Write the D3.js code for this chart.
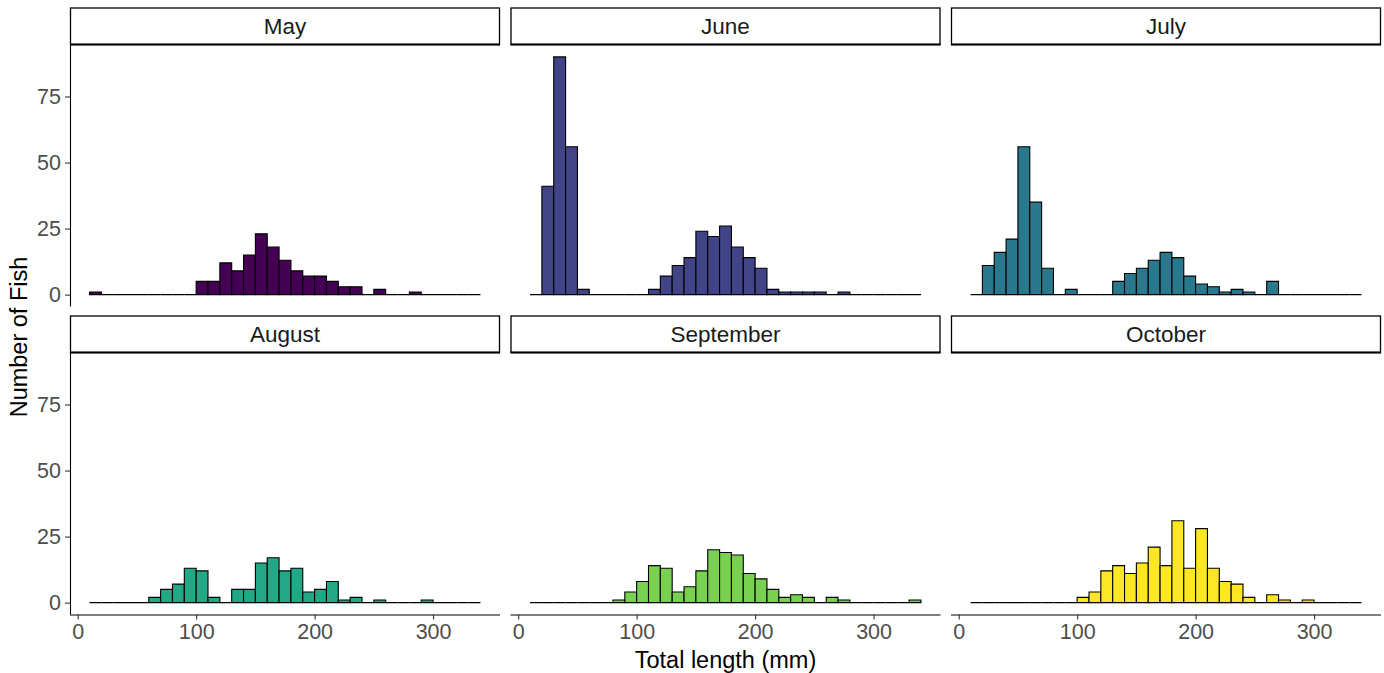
<!DOCTYPE html>
<meta charset="utf-8">
<style>
body {
  margin: 0;
  background-color: #fff;
}
text {
  font-family: Arial, 'Liberation Sans', sans-serif;
}
</style>
<body>
<svg width="1384" height="673"></svg>
<script src="https://d3js.org/d3.v7.min.js"></script>
<script>

// histogram bins: 10 mm wide, from 10 to 340
var binStart = 10,
    binWidth = 10;

var months = ["May", "June", "July", "August", "September", "October"];

var mayCounts = [1,0,0,0,0,0,0,0,0,5,5,12,9,15,23,18,13,9,7,7,5,3,3,0,2,0,0,1,0,0,0,0,0];
var juneCounts = [0,41,90,56,2,0,0,0,0,0,2,7,11,14,24,22,26,18,14,10,2,1,1,1,1,0,1,0,0,0,0,0,0];
var julyCounts = [0,11,16,21,56,35,10,0,2,0,0,0,5,8,10,13,16,14,7,4,3,1,2,1,0,5,0,0,0,0,0,0,0];
var augustCounts = [0,0,0,0,0,2,5,7,13,12,2,0,5,5,15,17,12,13,4,5,8,1,2,0,1,0,0,0,1,0,0,0,0];
var septemberCounts = [0,0,0,0,0,0,0,1,4,8,14,13,4,6,12,20,19,18,11,9,5,2,3,2,0,2,1,0,0,0,0,0,1];
var octoberCounts = [0,0,0,0,0,0,0,0,0,2,4,12,14,11,15,21,14,31,13,28,13,8,7,2,0,3,1,0,1,0,0,0,0];

var counts = [mayCounts, juneCounts, julyCounts, augustCounts, septemberCounts, octoberCounts];

var xTicks = [0, 100, 200, 300],
    yTicks = [0, 25, 50, 75];

var palette = ["#440154", "#414487", "#2A788E", "#22A884", "#7AD151", "#FDE725"];

var svg = d3.select("svg");

// facet layout (3 columns x 2 rows)
var colLeft = [70, 510.5, 951],
    panelW = 430,
    stripTop = [7.5, 315.5],
    stripH = 37.5,
    panelTop = [45, 353],
    panelH = 261.5;

var x = d3.scaleLinear().domain([-6.5, 356.5]).range([0, panelW]);
var y = d3.scaleLinear().domain([-4.5, 94.5]).range([panelH, 0]);
var color = d3.scaleOrdinal().domain(months).range(palette);

months.forEach(function(month, k) {
  var col = k % 3,
      row = Math.floor(k / 3),
      g = svg.append("g")
        .attr("transform", "translate(" + colLeft[col] + "," + panelTop[row] + ")");

  var bins = counts[k].map(function(c, i) {
    return {x0: binStart + i * binWidth, x1: binStart + (i + 1) * binWidth, n: c};
  });

  // bars drawn as paths so empty bins still show their outline
  g.selectAll("path.bar")
    .data(bins)
    .enter()
    .append("path")
    .attr("class", "bar")
    .attr("d", function(d) {
      var x0 = x(d.x0), x1 = x(d.x1), y0 = y(0), y1 = y(d.n);
      return "M" + x0 + "," + y0 + "H" + x1 + "V" + y1 + "H" + x0 + "Z";
    })
    .attr("fill", color(month))
    .attr("stroke", "#000")
    .attr("stroke-width", 1.1);

  // strip
  var strip = svg.append("g")
    .attr("transform", "translate(" + colLeft[col] + "," + stripTop[row] + ")");
  strip.append("rect")
    .attr("x", 0.5)
    .attr("y", 0.5)
    .attr("width", panelW - 1)
    .attr("height", stripH - 1)
    .attr("fill", "#fff")
    .attr("stroke", "#000")
    .attr("stroke-width", 1.3);
  strip.append("line")
    .attr("x1", 0).attr("x2", panelW)
    .attr("y1", stripH - 0.5).attr("y2", stripH - 0.5)
    .attr("stroke", "#000")
    .attr("stroke-width", 2);
  strip.append("text")
    .attr("x", panelW / 2)
    .attr("y", stripH / 2)
    .attr("dy", "0.36em")
    .attr("text-anchor", "middle")
    .attr("font-size", 22.5)
    .attr("fill", "#1a1a1a")
    .text(month);

  // y axis on first column only
  if (col === 0) {
    var yAxis = g.append("g")
      .call(d3.axisLeft(y).tickValues(yTicks).tickSize(5).tickPadding(4));
    yAxis.select(".domain").attr("stroke", "#000").attr("stroke-width", 1.1)
      .attr("d", "M0.5,0V" + panelH);
    yAxis.selectAll(".tick line").attr("stroke", "#333").attr("stroke-width", 1.1);
    yAxis.selectAll(".tick text")
      .attr("font-size", 21.5)
      .attr("font-family", "Arial, 'Liberation Sans', sans-serif")
      .attr("fill", "#4d4d4d");
  }

  // x axis on bottom row only
  if (row === 1) {
    var xAxis = g.append("g")
      .attr("transform", "translate(0," + panelH + ")")
      .call(d3.axisBottom(x).tickValues(xTicks).tickSize(5).tickPadding(4));
    xAxis.select(".domain").attr("stroke", "#000").attr("stroke-width", 1.1)
      .attr("d", "M0,0.5H" + panelW);
    xAxis.selectAll(".tick line").attr("stroke", "#333").attr("stroke-width", 1.1);
    xAxis.selectAll(".tick text")
      .attr("font-size", 21.5)
      .attr("font-family", "Arial, 'Liberation Sans', sans-serif")
      .attr("fill", "#4d4d4d");
  }
});

// axis titles
svg.append("text")
  .attr("x", colLeft[1] + panelW / 2)
  .attr("y", 668)
  .attr("text-anchor", "middle")
  .attr("font-size", 23.5)
  .attr("fill", "#000")
  .text("Total length (mm)");

svg.append("text")
  .attr("transform", "translate(27,337) rotate(-90)")
  .attr("text-anchor", "middle")
  .attr("font-size", 23.5)
  .attr("fill", "#000")
  .text("Number of Fish");

</script>
</body>
